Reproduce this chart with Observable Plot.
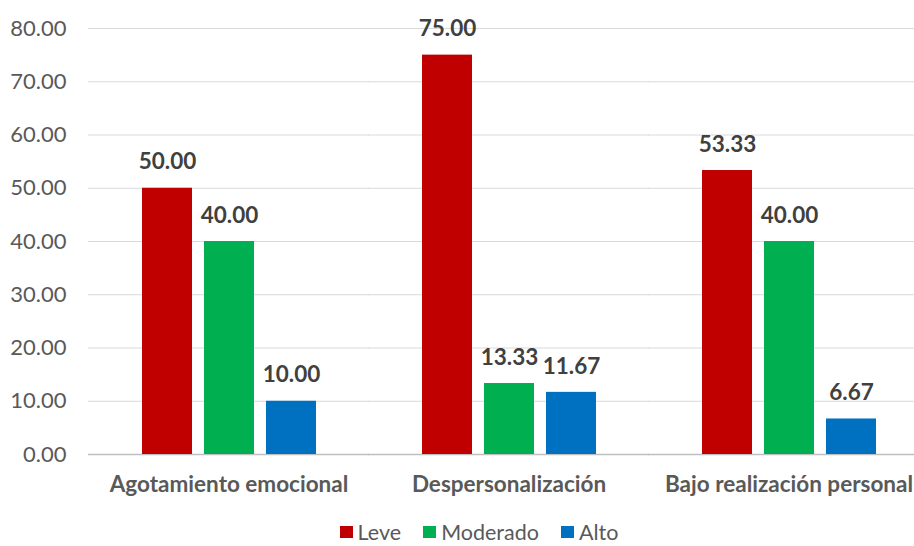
<!DOCTYPE html>
<html>
<head>
<meta charset="utf-8">
<script src="https://cdn.jsdelivr.net/npm/d3@7"></script>
<script src="https://cdn.jsdelivr.net/npm/@observablehq/plot@0.6"></script>
<style>
  body { margin: 0; background: #fff; font-family: Lato, "Open Sans", sans-serif; overflow: hidden; }
  #chart { height: 520px; }
  #legend { display: flex; justify-content: center; align-items: center; height: 18px; line-height: 18px; margin-top: 3px; font-size: 21.5px; color: #595959; padding-left: 44px; }
  #legend span.item { display: inline-flex; align-items: center; margin: 0 11px; line-height: 18px; }
  #legend span.sw { width: 13px; height: 12px; display: inline-block; margin-right: 5px; }
</style>
</head>
<body>
<div id="chart"></div>
<div id="legend"></div>
<script>
const categories = ["Agotamiento emocional", "Despersonalización", "Bajo realización personal"];
const series = ["Leve", "Moderado", "Alto"];
const leve = [50.00, 75.00, 53.33];
const moderado = [40.00, 13.33, 40.00];
const alto = [10.00, 11.67, 6.67];
const colors = ["#C00000", "#00B050", "#0070C0"];
const yTicks = [0, 10, 20, 30, 40, 50, 60, 70, 80];

const seriesValues = [leve, moderado, alto];
const data = [];
categories.forEach((c, i) => {
  series.forEach((s, j) => data.push({cat: c, serie: s, value: seriesValues[j][i]}));
});

const W = 914, H = 520;
const chart = Plot.plot({
  width: W,
  height: H,
  marginLeft: 88,
  marginRight: -14,
  marginTop: 28,
  marginBottom: 66,
  style: { fontFamily: "Lato, 'Open Sans', sans-serif", background: "#fff", overflow: "visible", display: "block" },
  fx: { domain: categories, paddingInner: 0.375, paddingOuter: 0.1875, label: null },
  x: { domain: series, paddingInner: 0.2, paddingOuter: 0, axis: null },
  y: { domain: [0, 80], axis: null },
  color: { domain: series, range: colors },
  marks: [
    Plot.ruleY(yTicks.filter(d => d > 0), { y: d => d, stroke: "#d9d9d9", strokeWidth: 1, insetLeft: -53, insetRight: -53 }),
    Plot.ruleY([0], { stroke: "#bfbfbf", strokeWidth: 1.5, insetLeft: -53, insetRight: -53 }),
    Plot.axisY({ ticks: yTicks, tickFormat: d => d.toFixed(2), tickSize: 0, tickPadding: 75, fontSize: 22, fill: "#595959", label: null }),
    Plot.barY(data, { fx: "cat", x: "serie", y: "value", fill: "serie" }),
    Plot.text(data, { fx: "cat", x: "serie", y: "value", text: d => d.value.toFixed(2), dy: -26, fontSize: 22.5, fontWeight: "bold", fill: "#404040" }),
    Plot.axisFx({ anchor: "bottom", tickSize: 0, tickPadding: 22, fontSize: 22.5, fontWeight: "bold", fill: "#595959", label: null })
  ]
});
document.getElementById("chart").appendChild(chart);

const legend = document.getElementById("legend");
series.forEach((s, i) => {
  const it = document.createElement("span");
  it.className = "item";
  const sw = document.createElement("span");
  sw.className = "sw";
  sw.style.background = colors[i];
  it.appendChild(sw);
  it.appendChild(document.createTextNode(s));
  legend.appendChild(it);
});
</script>
</body>
</html>
